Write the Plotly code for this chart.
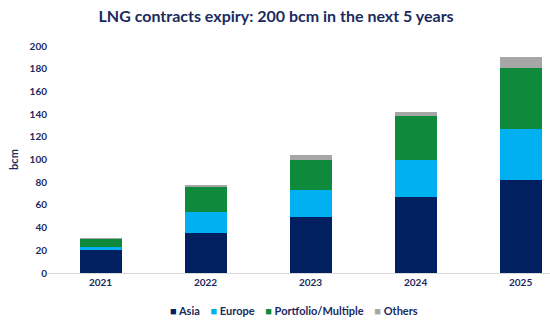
import plotly.graph_objects as go

years = ["2021", "2022", "2023", "2024", "2025"]
asia = [20, 35, 49, 67, 82]
europe = [3, 19, 24, 33, 45]
portfolio = [7, 22, 27, 38, 54]
others = [0.7, 1.5, 4, 3.5, 9]

series = [
    ("Asia", asia, "#002060"),
    ("Europe", europe, "#00B0F0"),
    ("Portfolio/Multiple", portfolio, "#0F8A3C"),
    ("Others", others, "#A6A6A6"),
]

navy = "#1B2A5E"
fig = go.Figure()
for name, vals, col in series:
    fig.add_trace(go.Bar(x=years, y=vals, name=name, showlegend=False,
                         marker=dict(color=col, line=dict(width=0))))

legend_text = "&nbsp;&nbsp;&nbsp;&nbsp;".join(
    f"<span style='color:{col}'>■</span> {name}" for name, _, col in series)
fig.add_annotation(text=legend_text, xref="paper", yref="paper", x=0.49, y=-0.165,
                   xanchor="center", yanchor="middle", showarrow=False,
                   font=dict(size=11, weight="bold", color=navy))

fig.update_layout(
    width=550, height=330,
    barmode="stack", bargap=0.6,
    paper_bgcolor="white", plot_bgcolor="white",
    margin=dict(l=48, r=0, t=46, b=57),
    font=dict(family="Lato", color=navy),
    title=dict(text="LNG contracts expiry: 200 bcm in the next 5 years",
               x=0.502, xanchor="center", y=0.95, yanchor="middle",
               font=dict(size=16, weight="bold", color=navy)),
)
fig.update_xaxes(range=[-0.5, 4.28], showgrid=False, showline=True, linecolor="#D9D9D9",
                 linewidth=1, ticks="", tickfont=dict(size=10, weight="bold", color=navy))
fig.update_yaxes(range=[0, 200], dtick=20, showgrid=False, zeroline=False, showline=False,
                 tickfont=dict(size=10, weight="bold", color=navy),
                 title=dict(text="bcm", font=dict(size=11, weight="bold", color=navy), standoff=8))

fig.write_html("out.html")
